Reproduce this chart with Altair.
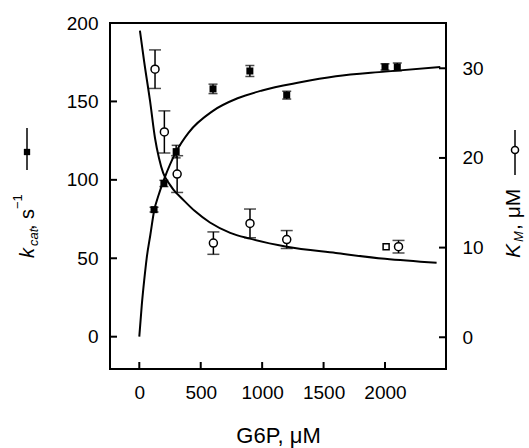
import altair as alt
import pandas as pd

# ---- data ----
x_ticks = [0, 500, 1000, 1500, 2000]
kcat_ticks = [0, 50, 100, 150, 200]
km_ticks = [0, 10, 20, 30]

kcat_x = [120, 200, 300, 600, 900, 1200, 2000, 2100]
kcat_y = [81, 97.7, 118, 158, 169.4, 154, 172, 172]
kcat_err = [1.5, 2, 4, 3, 3.5, 2.5, 2, 2.5]

km_x = [128, 204, 308, 603, 901, 1200, 2110]
km_y = [29.9, 22.9, 18.2, 10.5, 12.7, 10.9, 10.1]
km_err = [2.15, 2.35, 2.05, 1.25, 1.6, 1.0, 0.7]

km_sq_x = [2009]
km_sq_y = [10.1]

kcat_fit_x = [0, 20, 40, 60, 90, 120, 160, 200, 300, 400, 600, 800, 1000, 1300, 1600, 2000, 2450]
kcat_fit_y = [0, 20, 36, 50, 65, 80, 91, 100, 118, 130, 144, 152, 157, 162, 166, 169, 172]

km_fit_x = [5, 40, 88, 128, 160, 195, 250, 300, 330, 450, 575, 740, 900, 1200, 1600, 2000, 2420]
km_fit_y = [34.2, 30.7, 26.3, 22.2, 20.0, 18.3, 17.0, 16.1, 15.7, 14.1, 12.8, 11.65, 11.0, 10.1, 9.4, 8.75, 8.3]

# ---- tables ----
kcat_pts = pd.DataFrame({"x": kcat_x, "kcat": kcat_y,
                         "lo": [v - e for v, e in zip(kcat_y, kcat_err)],
                         "hi": [v + e for v, e in zip(kcat_y, kcat_err)]})
km_pts = pd.DataFrame({"x": km_x, "km": km_y,
                       "lo": [v - e for v, e in zip(km_y, km_err)],
                       "hi": [v + e for v, e in zip(km_y, km_err)]})
km_sq = pd.DataFrame({"x": km_sq_x, "km": km_sq_y})
kcat_fit = pd.DataFrame({"x": kcat_fit_x, "kcat": kcat_fit_y})
km_fit = pd.DataFrame({"x": km_fit_x, "km": km_fit_y})
xt = pd.DataFrame({"v": x_ticks})
lt = pd.DataFrame({"v": kcat_ticks})
rt = pd.DataFrame({"v": km_ticks})
one = pd.DataFrame({"a": [0]})

FONT = "Liberation Sans"
W, H = 336, 346
TK = 7  # inward tick length
TC = "black"

xs = alt.Scale(domain=[-238.5, 2496.5], nice=False, zero=False)
ls = alt.Scale(domain=[-20.6, 200], nice=False, zero=False)
rs = alt.Scale(domain=[-3.54, 35.05], nice=False, zero=False)

xaxis = alt.Axis(values=x_ticks, format="d", title="G6P, μM", grid=False, domain=False,
                 ticks=False, tickSize=0, labelPadding=14, labelFontSize=19, labelFont=FONT,
                 labelColor="black", titleFont=FONT, titleFontSize=22,
                 titleFontWeight="normal", titleColor="black",
                 titleY=73, titleBaseline="alphabetic")
laxis = alt.Axis(values=kcat_ticks, format="d", orient="left", title=None, grid=False,
                 domain=False, ticks=False, tickSize=0, labelPadding=12, labelFontSize=19,
                 labelFont=FONT, labelColor="black")
raxis = alt.Axis(values=km_ticks, format="d", orient="right", title=None, grid=False,
                 domain=False, ticks=False, tickSize=0, labelPadding=16, labelFontSize=19,
                 labelFont=FONT, labelColor="black")

X = lambda f: alt.X(f, type="quantitative", scale=xs, axis=xaxis)
YL = lambda f: alt.Y(f, type="quantitative", scale=ls, axis=laxis)
YR = lambda f: alt.Y(f, type="quantitative", scale=rs, axis=raxis)

# ---- left (kcat) group ----
l_curve = alt.Chart(kcat_fit).mark_line(color="black", strokeWidth=2, interpolate="monotone",
                                        clip=True).encode(x=X("x"), y=YL("kcat"))
l_err = alt.Chart(kcat_pts).mark_rule(color="black", strokeWidth=1.5).encode(
    x=X("x"), y=YL("lo"), y2="hi")
l_cap_lo = alt.Chart(kcat_pts).mark_tick(color="black", orient="horizontal", size=9,
                                         thickness=1.5).encode(x=X("x"), y=YL("lo"))
l_cap_hi = alt.Chart(kcat_pts).mark_tick(color="black", orient="horizontal", size=9,
                                         thickness=1.5).encode(x=X("x"), y=YL("hi"))
l_pts = alt.Chart(kcat_pts).mark_point(shape="square", filled=True, color="black",
                                       size=49, opacity=1).encode(x=X("x"), y=YL("kcat"))
l_ticks = alt.Chart(lt).mark_tick(color=TC, orient="horizontal", size=TK,
                                  thickness=2, opacity=1).encode(
    y=YL("v"), x=alt.value(TK / 2))
left = alt.layer(l_curve, l_err, l_cap_lo, l_cap_hi, l_pts, l_ticks)

# ---- right (KM) group ----
r_curve = alt.Chart(km_fit).mark_line(color="black", strokeWidth=2, interpolate="monotone",
                                      clip=True).encode(x=X("x"), y=YR("km"))
r_err = alt.Chart(km_pts).mark_rule(color="black", strokeWidth=1.5).encode(
    x=X("x"), y=YR("lo"), y2="hi")
r_cap_lo = alt.Chart(km_pts).mark_tick(color="black", orient="horizontal", size=12,
                                       thickness=1.5).encode(x=X("x"), y=YR("lo"))
r_cap_hi = alt.Chart(km_pts).mark_tick(color="black", orient="horizontal", size=12,
                                       thickness=1.5).encode(x=X("x"), y=YR("hi"))
r_pts = alt.Chart(km_pts).mark_point(shape="circle", filled=True, fill="white",
                                     stroke="black", strokeWidth=1.5, size=64,
                                     opacity=1).encode(x=X("x"), y=YR("km"))
r_sq = alt.Chart(km_sq).mark_point(shape="square", filled=True, fill="white",
                                   stroke="black", strokeWidth=1.5, size=36,
                                   opacity=1).encode(x=X("x"), y=YR("km"))
r_ticks = alt.Chart(rt).mark_tick(color=TC, orient="horizontal", size=TK,
                                  thickness=2, opacity=1).encode(
    y=YR("v"), x=alt.value(W - TK / 2))
right = alt.layer(r_curve, r_err, r_cap_lo, r_cap_hi, r_pts, r_sq, r_ticks)

# ---- x ticks (inward) ----
x_tick_marks = alt.Chart(xt).mark_tick(color=TC, orient="vertical", size=TK,
                                       thickness=2, opacity=1).encode(
    x=X("v"), y=alt.value(H - TK / 2))

# ---- rotated axis titles & legend glyphs ----
def txt(s, x, y, size, italic=False):
    return alt.Chart(one).mark_text(text=s, angle=270, align="left", baseline="alphabetic",
                                    font=FONT, fontSize=size, color="black",
                                    fontStyle="italic" if italic else "normal").encode(
        x=alt.value(x), y=alt.value(y))

ox, oy = 110, 23
titles = [
    txt("k", 34 - ox, 258 - oy, 20, True),
    txt("cat", 38 - ox, 246 - oy, 13, True),
    txt(", s", 34 - ox, 230 - oy, 20),
    txt("−1", 22 - ox, 209 - oy, 13),
    txt("K", 520 - ox, 258 - oy, 21, True),
    txt("M", 523 - ox, 242 - oy, 13, True),
    txt(", μM", 520 - ox, 230 - oy, 21),
]
glyphs = [
    alt.Chart(one).mark_rule(color="black", strokeWidth=1.5).encode(
        x=alt.value(27 - ox), y=alt.value(128 - oy), y2=alt.value(170 - oy)),
    alt.Chart(one).mark_point(shape="square", filled=True, color="black", size=40,
                              opacity=1).encode(x=alt.value(27 - ox), y=alt.value(152 - oy)),
    alt.Chart(one).mark_rule(color="black", strokeWidth=1.5).encode(
        x=alt.value(515 - ox), y=alt.value(130 - oy), y2=alt.value(175 - oy)),
    alt.Chart(one).mark_point(shape="circle", filled=True, fill="white", stroke="black",
                              strokeWidth=1.5, size=50, opacity=1).encode(
        x=alt.value(515 - ox), y=alt.value(150 - oy)),
]

chart = alt.layer(left, right, x_tick_marks, *titles, *glyphs).resolve_scale(
    y="independent"
).properties(
    width=W, height=H,
    autosize=alt.AutoSizeParams(type="none"),
    padding={"left": ox, "top": oy, "right": 529 - ox - W, "bottom": 448 - oy - H},
    background="white",
).configure_view(stroke="black", strokeWidth=2)

chart.save("out.html", embed_options={"renderer": "svg", "actions": False})
